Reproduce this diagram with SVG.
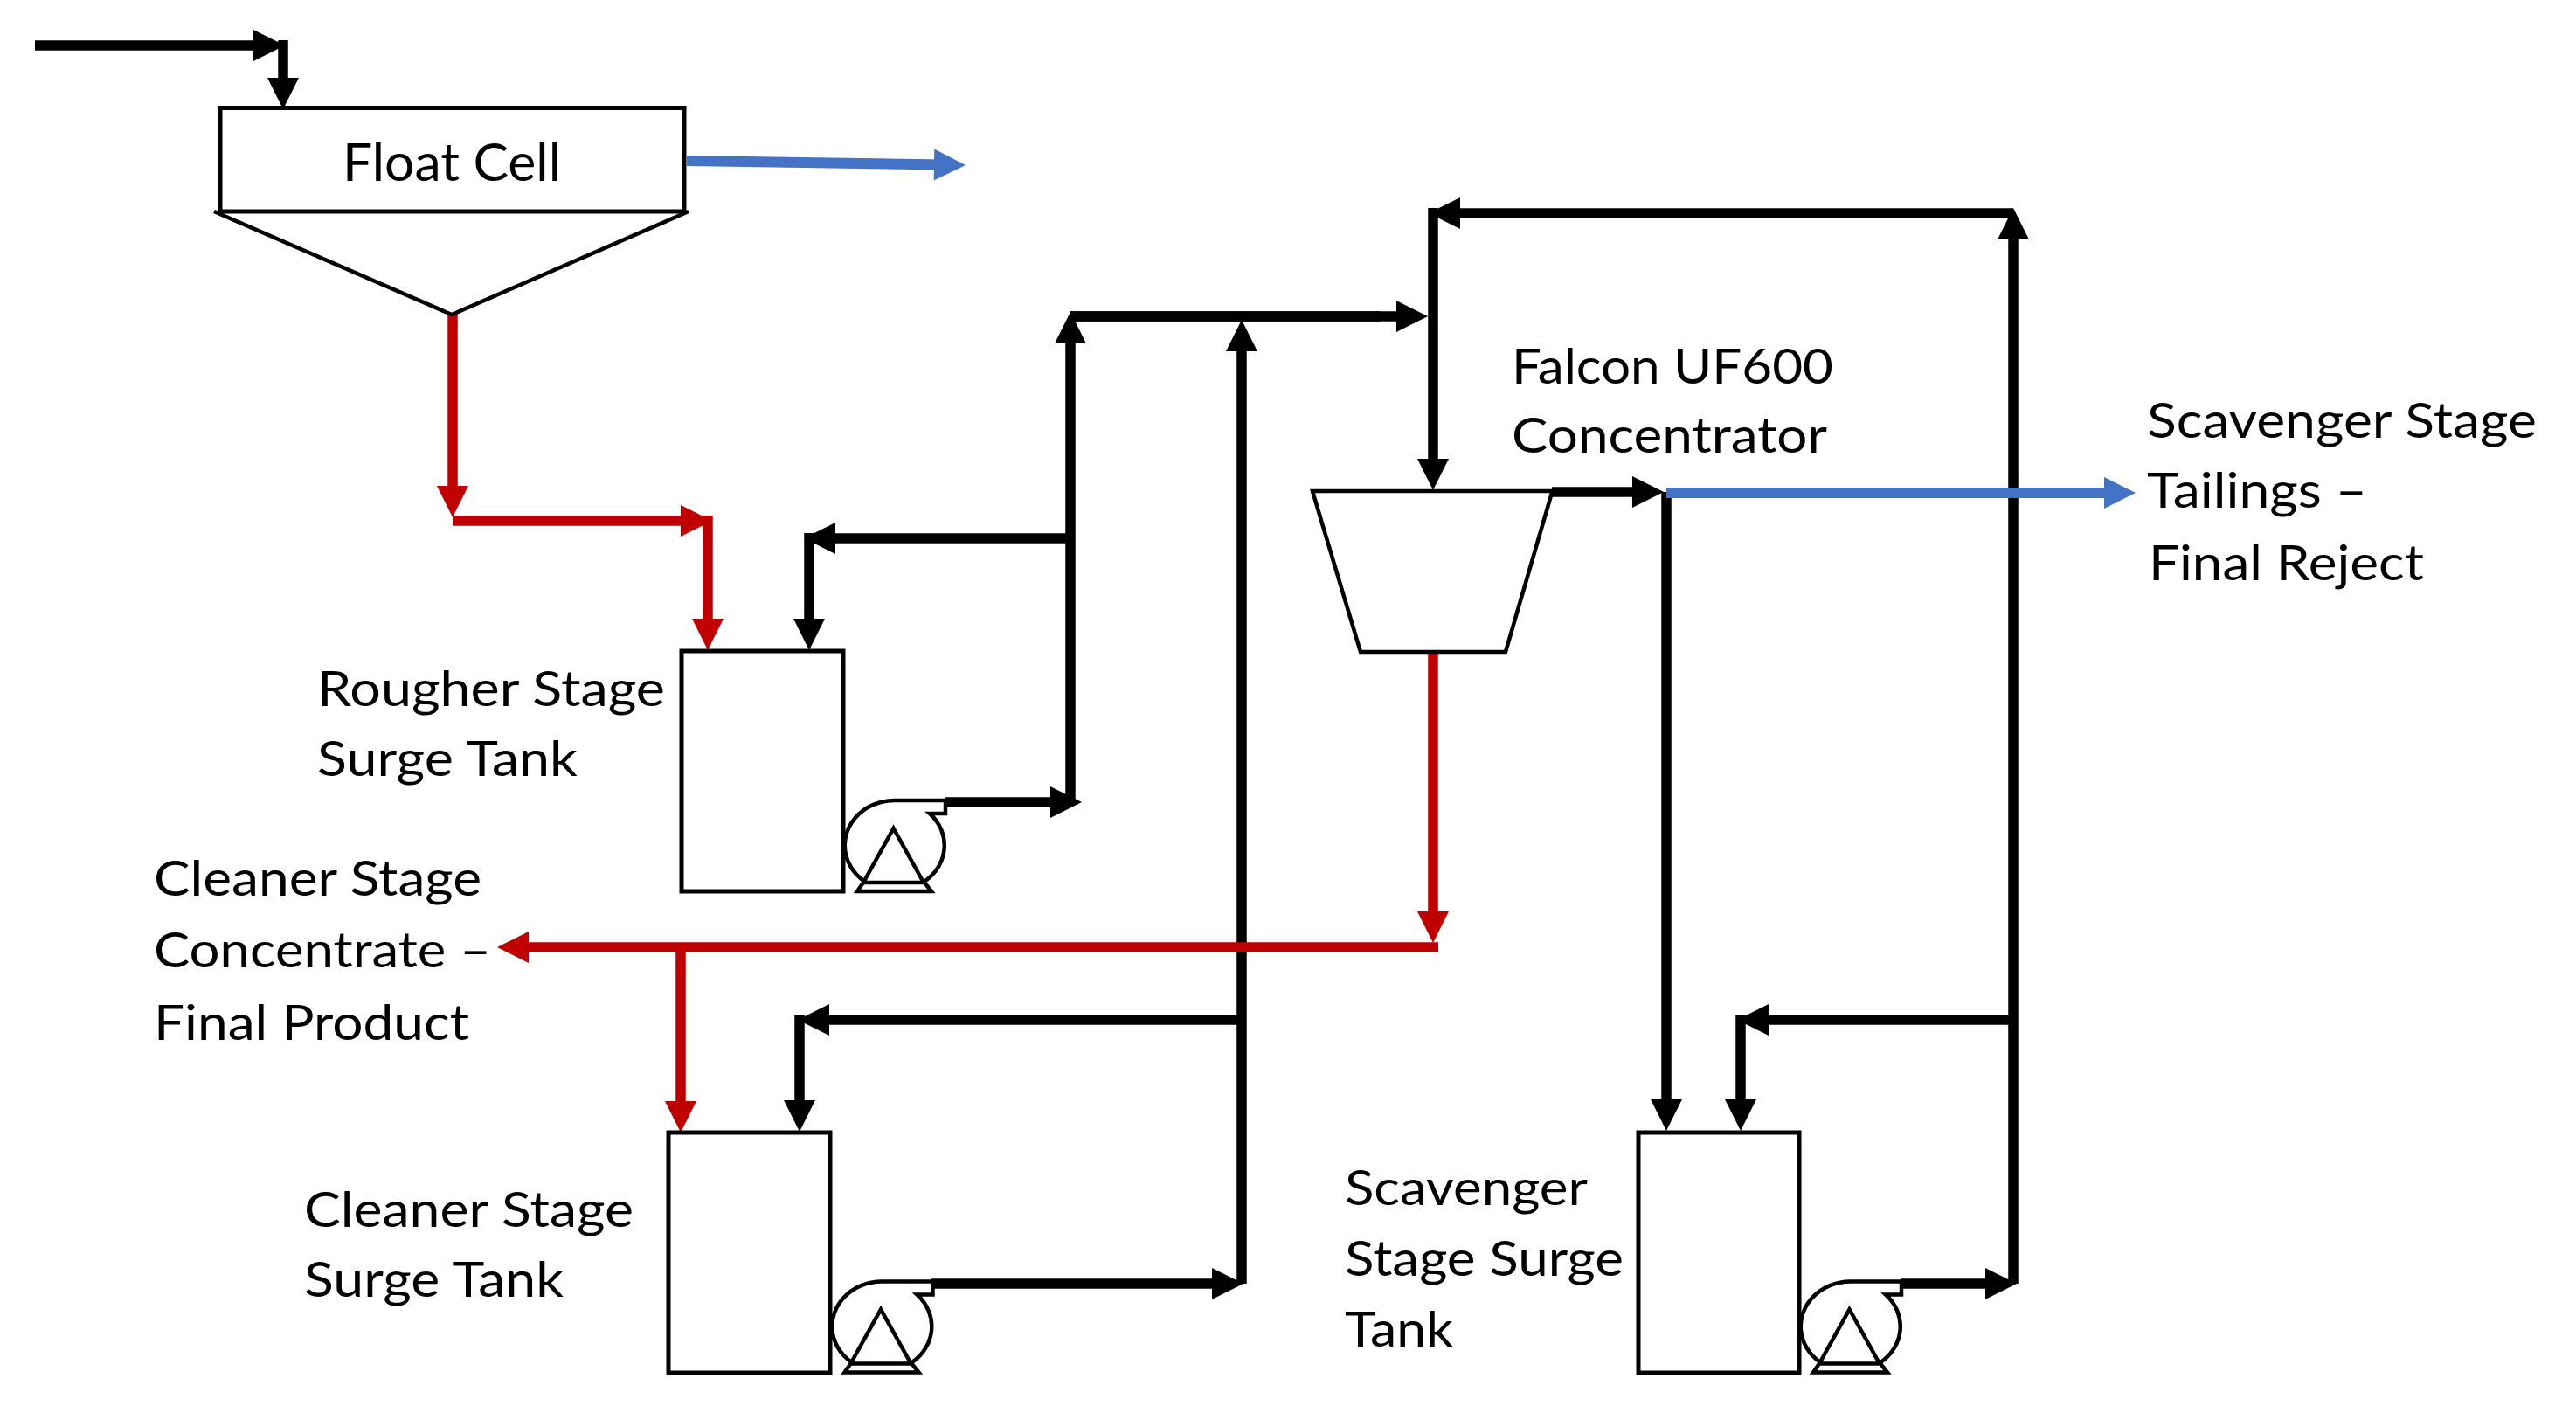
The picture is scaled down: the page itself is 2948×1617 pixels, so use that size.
<svg xmlns="http://www.w3.org/2000/svg" xmlns:xlink="http://www.w3.org/1999/xlink" width="2948" height="1617" viewBox="0 0 2948 1617">
<style>
  .shape { fill: #fff; stroke: #000; stroke-width: 5; }
  .thin { fill: none; stroke: #000; stroke-width: 4.5; stroke-linejoin: miter; }
  .lbl { font-family: Lato, "Open Sans", "Liberation Sans", sans-serif; font-size: 56px; fill: #000; }
  .k { fill: none; stroke: #000; stroke-width: 11.5; marker-end: url(#ak); }
  .r { fill: none; stroke: #C00000; stroke-width: 11.5; marker-end: url(#ar); }
  .b { fill: none; stroke: #4472C4; stroke-width: 12; marker-end: url(#ab); }
</style>
<defs>
  <marker id="ak" markerUnits="userSpaceOnUse" markerWidth="36" markerHeight="36" refX="12" refY="18" orient="auto" overflow="visible">
    <path d="M0,0 L36,18 L0,36 Z" fill="#000"/>
  </marker>
  <marker id="ar" markerUnits="userSpaceOnUse" markerWidth="36" markerHeight="36" refX="12" refY="18" orient="auto" overflow="visible">
    <path d="M0,0 L36,18 L0,36 Z" fill="#C00000"/>
  </marker>
  <marker id="ab" markerUnits="userSpaceOnUse" markerWidth="36" markerHeight="36" refX="12" refY="18" orient="auto" overflow="visible">
    <path d="M0,0 L36,18 L0,36 Z" fill="#4472C4"/>
  </marker>
  <g id="pump">
    <path class="thin" style="fill:#fff" d="M0,-51.5 H58 V-36.5 H40 A57,51.5 0 1 1 0,-51.5 Z"/>
    <path class="thin" d="M-36,42.5 L-1.5,-19.5 L33,42.5"/>
    <path class="thin" style="fill:#fff" d="M-43,52.5 L-36,42.5 L34,42.5 L42,52.5 Z"/>
  </g>
</defs>
<rect width="2948" height="1617" fill="#fff"/>

<g id="connectors">
  <!-- black -->
  <path class="k" d="M40,52 H302"/>
  <path class="k" d="M324,46 V101"/>
  <path class="k" d="M1082,918 H1214"/>
  <path class="k" d="M1225,918 V381"/>
  <path class="k" style="marker-end:none" d="M1225,362 H1580"/>
  <path class="k" d="M1225,362 H1610"/>
  <path class="k" d="M1225,616 H944"/>
  <path class="k" d="M926,610 V720"/>
  <path class="k" d="M1066,1469 H1399"/>
  <path class="k" d="M1421,1469 V390"/>
  <path class="k" d="M1421,1167 H937"/>
  <path class="k" d="M915,1161 V1271"/>
  <path class="k" d="M2304,1469 V262"/>
  <path class="k" d="M2304,244 H1659"/>
  <path class="k" d="M1640,238 V537"/>
  <path class="k" d="M1776,563 H1880"/>
  <path class="k" d="M1907,563 V1270"/>
  <path class="k" d="M2176,1469 H2284"/>
  <path class="k" d="M2304,1167 H2012"/>
  <path class="k" d="M1992,1161 V1270"/>
  <!-- red -->
  <path class="r" d="M518,360 V568"/>
  <path class="r" d="M518,596 H791"/>
  <path class="r" d="M810,590 V720"/>
  <path class="r" d="M1640,746 V1055"/>
  <path class="r" d="M1646,1084 H593"/>
  <path class="r" d="M779,1084 V1272"/>
  <!-- blue -->
  <path class="b" d="M786,184 L1081,188.6"/>
  <path class="b" d="M1907,564 H2420"/>
</g>

<g id="float-cell">
  <rect class="shape" x="252" y="123.5" width="531" height="118.5"/>
  <path class="thin" d="M245,242 L517,360 L788,242"/>
  <text class="lbl" x="392" y="207" font-size="60" style="font-size:60px" textLength="250" lengthAdjust="spacingAndGlyphs">Float Cell</text>
</g>

<g id="rougher-tank">
  <rect class="shape" x="780" y="745" width="185" height="275"/>
  <text class="lbl" x="363" y="808" textLength="398" lengthAdjust="spacingAndGlyphs">Rougher Stage</text>
  <text class="lbl" x="363" y="888" textLength="298" lengthAdjust="spacingAndGlyphs">Surge Tank</text>
</g>
<g id="rougher-pump">
  <use xlink:href="#pump" href="#pump" transform="translate(1024,967.5)"/>
</g>

<g id="falcon-concentrator">
  <path class="thin" style="fill:#fff" d="M1502,562 L1776.5,562 L1723,746 L1557,746 Z"/>
  <text class="lbl" x="1730" y="439" textLength="368" lengthAdjust="spacingAndGlyphs">Falcon UF600</text>
  <text class="lbl" x="1730" y="518" textLength="361" lengthAdjust="spacingAndGlyphs">Concentrator</text>
</g>

<g id="final-reject-label">
  <text class="lbl" x="2457" y="501" textLength="446" lengthAdjust="spacingAndGlyphs">Scavenger Stage</text>
  <text class="lbl" x="2457" y="581" textLength="252" lengthAdjust="spacingAndGlyphs">Tailings –</text>
  <text class="lbl" x="2459" y="664" textLength="315" lengthAdjust="spacingAndGlyphs">Final Reject</text>
</g>

<g id="final-product-label">
  <text class="lbl" x="176" y="1025" textLength="375" lengthAdjust="spacingAndGlyphs">Cleaner Stage</text>
  <text class="lbl" x="176" y="1107" textLength="386" lengthAdjust="spacingAndGlyphs">Concentrate –</text>
  <text class="lbl" x="176" y="1190" textLength="361" lengthAdjust="spacingAndGlyphs">Final Product</text>
</g>

<g id="cleaner-tank">
  <rect class="shape" x="765" y="1296" width="185" height="275"/>
  <text class="lbl" x="348" y="1404" textLength="377" lengthAdjust="spacingAndGlyphs">Cleaner Stage</text>
  <text class="lbl" x="348" y="1484" textLength="297" lengthAdjust="spacingAndGlyphs">Surge Tank</text>
</g>
<g id="cleaner-pump">
  <use xlink:href="#pump" href="#pump" transform="translate(1009.5,1518)"/>
</g>

<g id="scavenger-tank">
  <rect class="shape" x="1875" y="1296" width="184" height="275"/>
  <text class="lbl" x="1539" y="1379" textLength="278" lengthAdjust="spacingAndGlyphs">Scavenger</text>
  <text class="lbl" x="1539" y="1460" textLength="319" lengthAdjust="spacingAndGlyphs">Stage Surge</text>
  <text class="lbl" x="1539" y="1541" textLength="124" lengthAdjust="spacingAndGlyphs">Tank</text>
</g>
<g id="scavenger-pump">
  <use xlink:href="#pump" href="#pump" transform="translate(2118,1518)"/>
</g>
</svg>
